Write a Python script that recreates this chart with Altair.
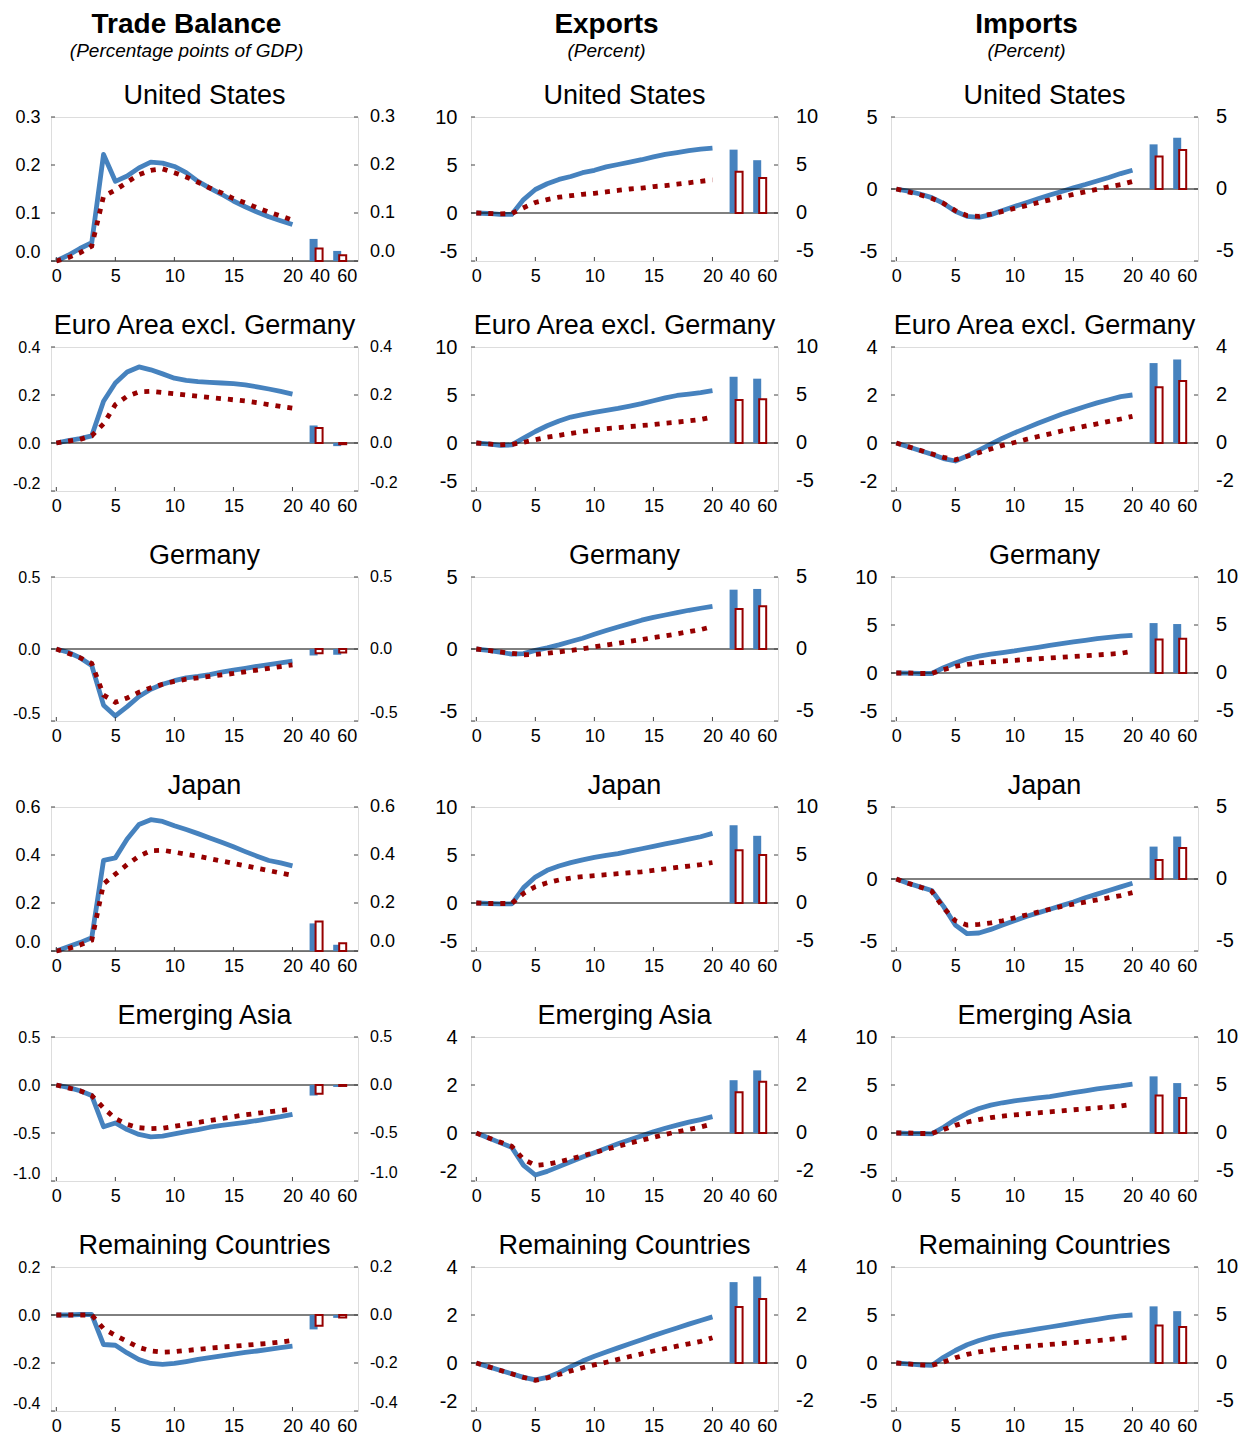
import altair as alt
import pandas as pd

FONT = "Liberation Sans"
BLUE = "#4682BE"
RED = "#960000"

T = list(range(21))
BAR_POS = [22, 24]                      # plotting slots for horizons 40 and 60
X_TICK_POS = [0, 5, 10, 15, 20, 22.3, 24.6]
X_TICK_LABELS = ["0", "5", "10", "15", "20", "40", "60"]
X_INNER_TICKS = [0, 5, 10, 15, 20]

COLUMNS = ["Trade Balance", "Exports", "Imports"]
SUBTITLES = ["(Percentage points of GDP)", "(Percent)", "(Percent)"]
REGIONS = ["United States", "Euro Area excl. Germany", "Germany", "Japan",
           "Emerging Asia", "Remaining Countries"]

TB_DOMAINS = [[0, 0.3], [-0.2, 0.4], [-0.5, 0.5], [0, 0.6], [-1.0, 0.5], [-0.4, 0.2]]
TB_TICKS = [[0, 0.1, 0.2, 0.3], [-0.2, 0, 0.2, 0.4], [-0.5, 0, 0.5], [0, 0.2, 0.4, 0.6],
            [-1.0, -0.5, 0, 0.5], [-0.4, -0.2, 0, 0.2]]
EX_DOMAINS = [[-5, 10], [-5, 10], [-5, 5], [-5, 10], [-2, 4], [-2, 4]]
EX_TICKS = [[-5, 0, 5, 10], [-5, 0, 5, 10], [-5, 0, 5], [-5, 0, 5, 10], [-2, 0, 2, 4], [-2, 0, 2, 4]]
IM_DOMAINS = [[-5, 5], [-2, 4], [-5, 10], [-5, 5], [-5, 10], [-5, 10]]
IM_TICKS = [[-5, 0, 5], [-2, 0, 2, 4], [-5, 0, 5, 10], [-5, 0, 5], [-5, 0, 5, 10], [-5, 0, 5, 10]]

# ---- Trade balance (blue solid, red dotted, bars: blue40, red40, blue60, red60)
US_TB_BLUE = [0.0, 0.012, 0.026, 0.038, 0.222, 0.166, 0.177, 0.194, 0.206, 0.204, 0.197,
              0.184, 0.166, 0.152, 0.139, 0.125, 0.113, 0.102, 0.092, 0.084, 0.076]
US_TB_RED = [0.0, 0.007, 0.017, 0.031, 0.135, 0.148, 0.164, 0.180, 0.189, 0.192, 0.184,
             0.175, 0.164, 0.152, 0.142, 0.130, 0.121, 0.111, 0.102, 0.094, 0.085]
US_TB_BARS = [0.046, 0.026, 0.021, 0.012]
EU_TB_BLUE = [0.0, 0.01, 0.018, 0.03, 0.174, 0.25, 0.296, 0.317, 0.305, 0.288, 0.27,
              0.261, 0.256, 0.253, 0.25, 0.247, 0.242, 0.234, 0.225, 0.215, 0.204]
EU_TB_RED = [0.0, 0.008, 0.015, 0.03, 0.08, 0.16, 0.195, 0.213, 0.215, 0.21, 0.205,
             0.2, 0.195, 0.19, 0.185, 0.18, 0.175, 0.168, 0.16, 0.152, 0.145]
EU_TB_BARS = [0.073, 0.062, -0.013, -0.005]
DE_TB_BLUE = [0.0, -0.023, -0.06, -0.115, -0.39, -0.465, -0.4, -0.33, -0.28, -0.245, -0.22,
              -0.2, -0.19, -0.178, -0.16, -0.147, -0.134, -0.12, -0.108, -0.096, -0.085]
DE_TB_RED = [0.0, -0.03, -0.06, -0.1, -0.32, -0.37, -0.34, -0.3, -0.27, -0.245, -0.225,
             -0.21, -0.2, -0.19, -0.18, -0.17, -0.158, -0.146, -0.134, -0.122, -0.11]
DE_TB_BARS = [-0.045, -0.03, -0.04, -0.025]
JP_TB_BLUE = [0.0, 0.018, 0.035, 0.055, 0.378, 0.388, 0.467, 0.527, 0.547, 0.54, 0.522,
              0.506, 0.489, 0.471, 0.453, 0.434, 0.414, 0.395, 0.377, 0.367, 0.355]
JP_TB_RED = [0.0, 0.01, 0.025, 0.045, 0.28, 0.32, 0.36, 0.395, 0.418, 0.42, 0.412,
             0.403, 0.395, 0.385, 0.375, 0.365, 0.355, 0.345, 0.335, 0.325, 0.315]
JP_TB_BARS = [0.115, 0.123, 0.026, 0.032]
EA_TB_BLUE = [0.0, -0.025, -0.06, -0.11, -0.435, -0.395, -0.465, -0.515, -0.54, -0.533, -0.51,
              -0.485, -0.465, -0.44, -0.42, -0.405, -0.39, -0.37, -0.35, -0.33, -0.305]
EA_TB_RED = [0.0, -0.03, -0.06, -0.11, -0.24, -0.35, -0.41, -0.445, -0.455, -0.45, -0.43,
             -0.41, -0.39, -0.37, -0.35, -0.33, -0.31, -0.295, -0.28, -0.265, -0.25]
EA_TB_BARS = [-0.11, -0.09, -0.02, -0.01]
RC_TB_BLUE = [0.0, 0.0, 0.002, 0.002, -0.123, -0.126, -0.158, -0.186, -0.202, -0.206, -0.202,
              -0.194, -0.185, -0.178, -0.17, -0.163, -0.156, -0.15, -0.143, -0.136, -0.13]
RC_TB_RED = [0.0, 0.0, 0.0, 0.0, -0.057, -0.085, -0.11, -0.135, -0.15, -0.155, -0.153,
             -0.148, -0.143, -0.138, -0.134, -0.13, -0.126, -0.122, -0.118, -0.113, -0.106]
RC_TB_BARS = [-0.06, -0.045, -0.012, -0.01]

# ---- Exports
US_EX_BLUE = [0.0, -0.05, -0.15, -0.15, 1.4, 2.45, 3.05, 3.5, 3.8, 4.2, 4.45,
              4.8, 5.05, 5.3, 5.55, 5.85, 6.1, 6.3, 6.5, 6.65, 6.75]
US_EX_RED = [0.0, -0.05, -0.1, -0.05, 0.55, 1.1, 1.4, 1.65, 1.8, 1.95, 2.05,
             2.2, 2.35, 2.5, 2.6, 2.75, 2.85, 3.0, 3.15, 3.3, 3.45]
US_EX_BARS = [6.6, 4.3, 5.5, 3.65]
EU_EX_BLUE = [0.0, -0.1, -0.25, -0.2, 0.5, 1.2, 1.8, 2.3, 2.7, 2.95, 3.2,
              3.4, 3.6, 3.85, 4.1, 4.4, 4.7, 4.95, 5.1, 5.25, 5.45]
EU_EX_RED = [0.0, -0.1, -0.2, -0.15, 0.07, 0.35, 0.6, 0.8, 1.0, 1.2, 1.36,
             1.5, 1.6, 1.71, 1.82, 1.92, 2.06, 2.17, 2.3, 2.45, 2.7]
EU_EX_BARS = [6.9, 4.48, 6.7, 4.55]
DE_EX_BLUE = [0.0, -0.1, -0.22, -0.36, -0.32, -0.1, 0.08, 0.29, 0.52, 0.75, 1.02,
              1.28, 1.53, 1.76, 2.0, 2.2, 2.36, 2.53, 2.69, 2.83, 2.96]
DE_EX_RED = [0.0, -0.1, -0.2, -0.3, -0.4, -0.38, -0.3, -0.2, -0.1, 0.02, 0.15,
             0.28, 0.4, 0.53, 0.65, 0.8, 0.92, 1.05, 1.2, 1.35, 1.56]
DE_EX_BARS = [4.12, 2.78, 4.17, 2.97]
JP_EX_BLUE = [0.0, -0.05, -0.1, -0.1, 1.6, 2.7, 3.4, 3.85, 4.2, 4.5, 4.75,
              4.95, 5.15, 5.4, 5.65, 5.9, 6.15, 6.4, 6.65, 6.9, 7.25]
JP_EX_RED = [0.0, -0.05, -0.05, -0.05, 1.0, 1.7, 2.1, 2.4, 2.6, 2.75, 2.85,
             2.95, 3.05, 3.15, 3.25, 3.4, 3.55, 3.7, 3.85, 4.0, 4.22]
JP_EX_BARS = [8.1, 5.5, 7.0, 5.0]
EA_EX_BLUE = [0.0, -0.2, -0.4, -0.6, -1.35, -1.75, -1.6, -1.4, -1.2, -1.0, -0.82,
              -0.63, -0.45, -0.28, -0.12, 0.05, 0.2, 0.33, 0.45, 0.56, 0.68]
EA_EX_RED = [0.0, -0.2, -0.38, -0.55, -1.1, -1.35, -1.3, -1.2, -1.08, -0.95, -0.82,
             -0.68, -0.55, -0.42, -0.3, -0.18, -0.06, 0.05, 0.15, 0.25, 0.38]
EA_EX_BARS = [2.2, 1.7, 2.61, 2.14]
RC_EX_BLUE = [0.0, -0.15, -0.3, -0.45, -0.6, -0.7, -0.6, -0.4, -0.15, 0.08, 0.28,
              0.46, 0.63, 0.8, 0.97, 1.14, 1.3, 1.46, 1.62, 1.77, 1.92]
RC_EX_RED = [0.0, -0.15, -0.3, -0.45, -0.6, -0.72, -0.62, -0.48, -0.33, -0.2, -0.08,
             0.03, 0.15, 0.27, 0.38, 0.5, 0.6, 0.7, 0.8, 0.9, 1.05]
RC_EX_BARS = [3.37, 2.33, 3.6, 2.67]

# ---- Imports
US_IM_BLUE = [0.0, -0.15, -0.35, -0.6, -1.0, -1.55, -1.9, -1.97, -1.78, -1.5, -1.22,
              -0.95, -0.68, -0.42, -0.17, 0.08, 0.31, 0.56, 0.8, 1.07, 1.3]
US_IM_RED = [0.0, -0.2, -0.4, -0.65, -1.0, -1.5, -1.85, -1.9, -1.75, -1.55, -1.35,
             -1.15, -0.95, -0.75, -0.55, -0.38, -0.2, -0.02, 0.15, 0.3, 0.52]
US_IM_BARS = [3.1, 2.25, 3.56, 2.7]
EU_IM_BLUE = [0.0, -0.16, -0.31, -0.47, -0.65, -0.75, -0.54, -0.3, -0.05, 0.2, 0.42,
              0.62, 0.82, 1.01, 1.2, 1.36, 1.52, 1.67, 1.8, 1.93, 2.0]
EU_IM_RED = [0.0, -0.15, -0.3, -0.45, -0.6, -0.7, -0.55, -0.4, -0.25, -0.1, 0.02,
             0.15, 0.27, 0.38, 0.5, 0.6, 0.7, 0.8, 0.9, 1.0, 1.11]
EU_IM_BARS = [3.33, 2.32, 3.48, 2.58]
DE_IM_BLUE = [0.0, -0.02, -0.05, -0.05, 0.55, 1.05, 1.47, 1.75, 1.96, 2.13, 2.3,
              2.5, 2.68, 2.88, 3.06, 3.23, 3.4, 3.58, 3.72, 3.83, 3.92]
DE_IM_RED = [0.0, 0.0, -0.05, -0.05, 0.35, 0.7, 0.9, 1.05, 1.15, 1.25, 1.32,
             1.4, 1.48, 1.56, 1.64, 1.72, 1.8, 1.88, 1.96, 2.05, 2.25]
DE_IM_BARS = [5.2, 3.48, 5.1, 3.58]
JP_IM_BLUE = [0.0, -0.3, -0.55, -0.8, -1.9, -3.2, -3.8, -3.75, -3.5, -3.2, -2.9,
              -2.6, -2.35, -2.1, -1.85, -1.6, -1.3, -1.05, -0.8, -0.55, -0.3]
JP_IM_RED = [0.0, -0.3, -0.55, -0.85, -2.0, -2.9, -3.2, -3.15, -3.05, -2.9, -2.7,
             -2.5, -2.3, -2.1, -1.9, -1.75, -1.6, -1.45, -1.3, -1.15, -0.95]
JP_IM_BARS = [2.25, 1.32, 2.95, 2.15]
EA_IM_BLUE = [0.0, -0.05, -0.05, -0.1, 0.6, 1.4, 2.05, 2.55, 2.9, 3.15, 3.35,
              3.5, 3.65, 3.8, 4.0, 4.2, 4.4, 4.6, 4.75, 4.9, 5.08]
EA_IM_RED = [0.0, 0.0, -0.05, -0.05, 0.35, 0.8, 1.15, 1.4, 1.6, 1.75, 1.88,
             2.0, 2.1, 2.2, 2.3, 2.42, 2.52, 2.62, 2.72, 2.82, 3.0]
EA_IM_BARS = [5.9, 3.9, 5.2, 3.65]
RC_IM_BLUE = [0.0, -0.1, -0.2, -0.25, 0.6, 1.3, 1.9, 2.35, 2.7, 2.95, 3.15,
              3.35, 3.55, 3.75, 3.95, 4.15, 4.35, 4.55, 4.75, 4.9, 5.0]
RC_IM_RED = [0.0, -0.1, -0.2, -0.25, 0.1, 0.55, 0.9, 1.15, 1.35, 1.5, 1.62,
             1.73, 1.83, 1.93, 2.03, 2.13, 2.23, 2.33, 2.45, 2.58, 2.7]
RC_IM_BARS = [5.9, 3.9, 5.4, 3.75]

TB = [(US_TB_BLUE, US_TB_RED, US_TB_BARS), (EU_TB_BLUE, EU_TB_RED, EU_TB_BARS),
      (DE_TB_BLUE, DE_TB_RED, DE_TB_BARS), (JP_TB_BLUE, JP_TB_RED, JP_TB_BARS),
      (EA_TB_BLUE, EA_TB_RED, EA_TB_BARS), (RC_TB_BLUE, RC_TB_RED, RC_TB_BARS)]
EX = [(US_EX_BLUE, US_EX_RED, US_EX_BARS), (EU_EX_BLUE, EU_EX_RED, EU_EX_BARS),
      (DE_EX_BLUE, DE_EX_RED, DE_EX_BARS), (JP_EX_BLUE, JP_EX_RED, JP_EX_BARS),
      (EA_EX_BLUE, EA_EX_RED, EA_EX_BARS), (RC_EX_BLUE, RC_EX_RED, RC_EX_BARS)]
IM = [(US_IM_BLUE, US_IM_RED, US_IM_BARS), (EU_IM_BLUE, EU_IM_RED, EU_IM_BARS),
      (DE_IM_BLUE, DE_IM_RED, DE_IM_BARS), (JP_IM_BLUE, JP_IM_RED, JP_IM_BARS),
      (EA_IM_BLUE, EA_IM_RED, EA_IM_BARS), (RC_IM_BLUE, RC_IM_RED, RC_IM_BARS)]

W, H = 307, 144
X_DOMAIN = [-0.45, 25.55]

x_expr = "datum.label"
for p, lab in zip(X_TICK_POS, X_TICK_LABELS):
    x_expr = f"datum.value == {p} ? '{lab}' : ({x_expr})"


def fmt_label(v, fmt):
    return f"{v:.1f}" if fmt == ".1f" else f"{int(v)}"


def panel(title, blue, red, bars, domain, ticks, fmt, header=None, subtitle=None):
    xs = alt.Scale(domain=X_DOMAIN, nice=False, zero=False, padding=0)
    ys = alt.Scale(domain=domain, nice=False, zero=False, padding=0)
    lo = domain[0]
    thr = round(lo + (domain[1] - domain[0]) * 0.01, 6)
    if fmt == ".1f":
        yfs = 18 if lo >= 0 else 16
        lpad, rgap = 11, 12
    else:
        yfs = 20
        lpad, rgap = 14, 18
    yax = alt.Axis(orient="left", values=ticks, format=fmt,
                   labelExpr="replace(datum.label, '\u2212', '-')",
                   ticks=False, domain=False, grid=False, title=None,
                   labelFont=FONT, labelFontSize=yfs, labelColor="black", labelPadding=lpad,
                   labelOverlap=False,
                   labelBaseline={"condition": {"test": f"datum.value < {thr}",
                                                "value": "bottom"},
                                  "value": "middle"})
    xax = alt.Axis(orient="bottom", values=X_TICK_POS, labelExpr=x_expr, ticks=False,
                   domain=False, grid=False, title=None, labelFont=FONT, labelFontSize=18,
                   labelColor="black", labelPadding=6, labelOverlap=False,
                   labelFlush=False, labelBound=False)

    def X(f):
        return alt.X(f, scale=xs, axis=xax)

    def Y(f):
        return alt.Y(f, scale=ys, axis=yax)

    dl = pd.DataFrame({"t": T, "blue": blue, "red": red})
    db = pd.DataFrame({"pos": BAR_POS, "blue": [bars[0], bars[2]], "red": [bars[1], bars[3]]})
    dz = pd.DataFrame({"v": [0]})
    dyt = pd.DataFrame({"v": ticks, "lab": [fmt_label(v, fmt) for v in ticks]})
    dxt = pd.DataFrame({"p": X_INNER_TICKS})
    dt = pd.DataFrame({"title": [title]})

    lb = alt.Chart(dl).mark_line(color=BLUE, strokeWidth=4.8, strokeJoin="round").encode(
        x=X("t:Q"), y=Y("blue:Q"))
    zero = alt.Chart(dz).mark_rule(color="black", strokeWidth=1).encode(y=Y("v:Q"))
    lr = alt.Chart(dl).mark_line(color=RED, strokeWidth=4.8, strokeDash=[5, 7],
                                 strokeCap="butt").encode(x=X("t:Q"), y=Y("red:Q"))
    bb = alt.Chart(db).mark_bar(color=BLUE, size=8, xOffset=-2.5).encode(
        x=X("pos:Q"), y=Y("blue:Q"), y2=alt.datum(0))
    br = alt.Chart(db).mark_bar(fill="white", stroke=RED, strokeWidth=2, size=7,
                                xOffset=3).encode(
        x=X("pos:Q"), y=Y("red:Q"), y2=alt.datum(0))
    yt_left = alt.Chart(dyt).mark_rule(color="#444", strokeWidth=1).encode(
        y=Y("v:Q"), x=alt.value(0), x2=alt.value(4))
    yt_right = alt.Chart(dyt).mark_rule(color="#444", strokeWidth=1).encode(
        y=Y("v:Q"), x=alt.value(W - 4), x2=alt.value(W))
    xt = alt.Chart(dxt).mark_rule(color="#444", strokeWidth=1).encode(
        x=X("p:Q"), y=alt.value(H), y2=alt.value(H - 4))
    rlab_mid = alt.Chart(dyt[dyt["v"] >= thr]).mark_text(
        align="left", baseline="middle", font=FONT, fontSize=yfs, color="black").encode(
        y=Y("v:Q"), x=alt.value(W + rgap), text="lab:N")
    rlab_bot = alt.Chart(dyt[dyt["v"] < thr]).mark_text(
        align="left", baseline="bottom", font=FONT, fontSize=yfs, color="black").encode(
        y=Y("v:Q"), x=alt.value(W + rgap), text="lab:N")
    ttl = alt.Chart(dt).mark_text(
        font=FONT, fontSize=27, color="black", align="center", baseline="alphabetic").encode(
        x=alt.value(W / 2), y=alt.value(-13), text="title:N")

    layers = [lb, zero, lr, bb, br, yt_left, yt_right, xt, rlab_mid, rlab_bot, ttl]
    if header is not None:
        dh = pd.DataFrame({"h": [header], "s": [subtitle]})
        layers.append(alt.Chart(dh).mark_text(
            font=FONT, fontSize=28, fontWeight="bold", color="black",
            align="center", baseline="alphabetic").encode(
            x=alt.value(W / 2 - 18), y=alt.value(-84), text="h:N"))
        layers.append(alt.Chart(dh).mark_text(
            font=FONT, fontSize=19, fontStyle="italic", color="black",
            align="center", baseline="alphabetic").encode(
            x=alt.value(W / 2 - 18), y=alt.value(-60), text="s:N"))

    return alt.layer(*layers).properties(width=W, height=H)


sets = [(TB, TB_DOMAINS, TB_TICKS, ".1f"), (EX, EX_DOMAINS, EX_TICKS, "d"),
        (IM, IM_DOMAINS, IM_TICKS, "d")]
cells = []
for r in range(6):
    for ci, (data, doms, tks, fmt) in enumerate(sets):
        cells.append(panel(REGIONS[r], data[r][0], data[r][1], data[r][2], doms[r], tks[r], fmt,
                           header=COLUMNS[ci] if r == 0 else None,
                           subtitle=SUBTITLES[ci] if r == 0 else None))

chart = alt.concat(*cells, columns=3, spacing={"row": 86, "column": 113},
                   bounds="flush").properties(
    padding={"left": 3, "top": 2, "right": 5, "bottom": 0}
).configure_view(stroke="#555", strokeWidth=1).configure(background="white")

chart.save("out.html", embed_options={"renderer": "svg", "actions": False})
